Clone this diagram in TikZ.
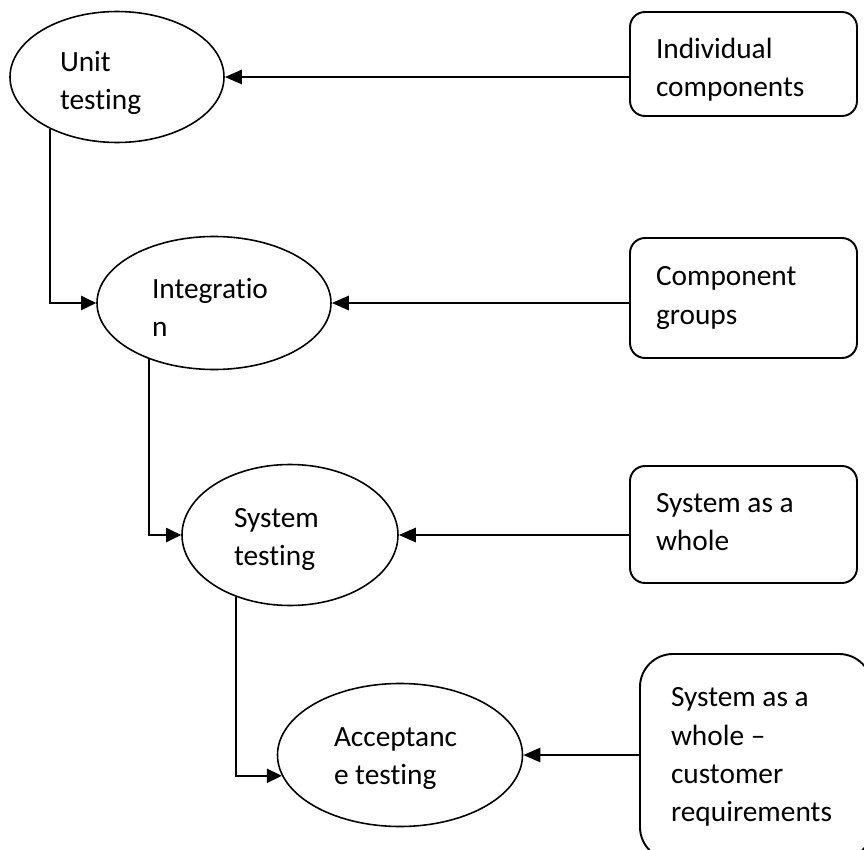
\documentclass[tikz,border=0pt]{standalone}
\usepackage{fontspec}
\setmainfont{Carlito}[Ligatures={TeX,NoCommon}]
\usepackage{xcolor}
\usepackage{tikz}
\usetikzlibrary{shapes,arrows.meta,positioning}

\tikzset{
    phase/.style={
        ellipse,
        draw,
        line width=0.9pt,
        inner sep=0pt,
        align=flush left,
        font=\fontsize{16.7}{21.8}\selectfont
    },
    scopebox/.style={
        rectangle,
        draw,
        line width=1.1pt,
        rounded corners=0.3cm,
        inner sep=0pt,
        align=flush left,
        font=\fontsize{16.7}{21.8}\selectfont
    },
    feedarrow/.style={
        line width=1.5pt,
        -{Triangle[length=0.34cm,width=0.28cm]}
    },
    steparrow/.style={
        line width=1.1pt,
        -{Triangle[length=0.3cm,width=0.28cm]}
    }
}

\begin{document}
\begin{tikzpicture}
                \useasboundingbox (0,0) rectangle (17.28,-17.0);
                \clip (0,0) rectangle (17.28,-17.0);

                \node[
                    phase,
                    minimum width=4.28cm,
                    minimum height=2.62cm,
                    text width=2.28cm,
                    text depth=0.62cm
                ] (unit) at (2.34,-1.54) {Unit\\testing};

                \node[
                    phase,
                    minimum width=4.68cm,
                    minimum height=2.66cm,
                    text width=2.48cm,
                    text depth=0.59cm
                ] (integ) at (4.28,-6.06) {Integratio\\n};

                \node[
                    phase,
                    minimum width=4.32cm,
                    minimum height=2.82cm,
                    text width=2.24cm,
                    text depth=0.68cm
                ] (systest) at (5.80,-10.70) {System\\testing};

                \node[
                    phase,
                    minimum width=4.90cm,
                    minimum height=2.86cm,
                    text width=2.64cm,
                    text depth=0.72cm
                ] (accept) at (8.00,-15.10) {Acceptanc\\e testing};

                \node[
                    scopebox,
                    minimum width=4.54cm,
                    minimum height=2.08cm,
                    text width=3.5cm,
                    text depth=0.64cm
                ] (indiv) at (14.87,-1.28) {Individual\\components};

                \node[
                    scopebox,
                    minimum width=4.54cm,
                    minimum height=2.40cm,
                    text width=3.5cm
                ] (groups) at (14.87,-5.96) {Component\\groups};

                \node[
                    scopebox,
                    minimum width=4.54cm,
                    minimum height=2.34cm,
                    text width=3.5cm,
                    text depth=0.88cm
                ] (whole) at (14.87,-10.49) {System as a\\whole};

                \node[
                    scopebox,
                    rounded corners=0.66cm,
                    minimum width=4.64cm,
                    minimum height=4.12cm,
                    text width=3.4cm
                ] (customer) at (15.12,-15.14) {System as a\\whole \textendash\\customer\\requirements};

                \draw[feedarrow] (indiv.west |- unit.east) -- (unit.east);
                \draw[feedarrow] (groups.west |- integ.east) -- (integ.east);
                \draw[feedarrow] (whole.west |- systest.east) -- (systest.east);
                \draw[feedarrow] (customer.west |- accept.east) -- (accept.east);

                \draw[steparrow] (unit.218) |- (integ.west);
                \draw[steparrow] (integ.221) |- (systest.west);
                \draw[steparrow] (systest.229) |- (accept.190);

\end{tikzpicture}
\end{document}
